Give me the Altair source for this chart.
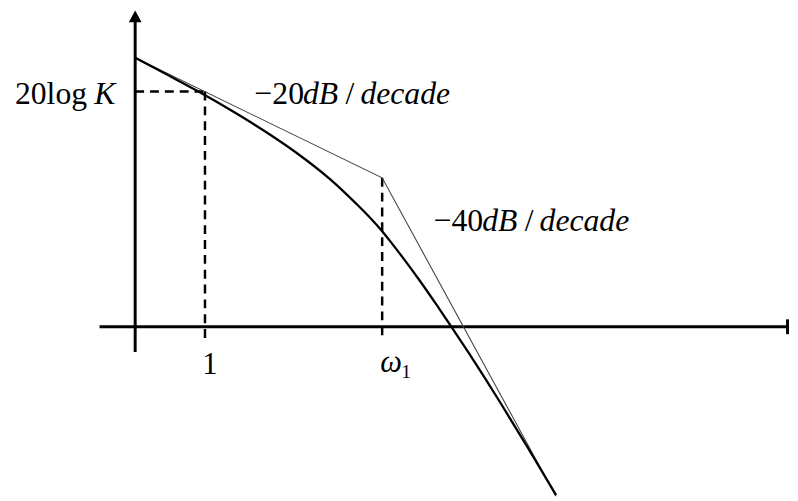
import altair as alt
import pandas as pd

# ---- data (x: frequency omega on a log axis, y: magnitude in dB) ----
omega_axis = 0.4037          # where the vertical dB axis stands
omega_one = 1.0              # omega = 1
omega_1 = 10.0               # corner frequency omega_1
gain_db = 54.0               # 20 log K

# straight-line (asymptotic) approximation
asym_w = [0.4064, 10.0, 95.6]
asym_db = [61.7, 34.2, -38.9]

# exact magnitude curve
exact_w = [0.4064, 0.6213, 0.9139, 1.4026, 2.1553, 3.3081, 5.0768, 7.157,
           8.681, 10.0, 11.373, 13.05, 16.16, 20.03, 24.29, 30.74, 38.11,
           47.24, 66.52, 95.85]
exact_db = [61.70, 57.73, 54.07, 49.70, 45.00, 39.84, 33.89, 28.20,
            24.73, 21.93, 19.09, 15.93, 10.80, 5.36, 0.30, -5.95, -11.84,
            -17.91, -27.82, -38.66]

# axis extents
x_axis_w = [0.2541, 1940.0]
y_axis_db = [-5.8, 70.57]
arrow_db = 71.25
end_tick_db = [-1.7, 1.7]
drop_db = -2.84              # dashed guides end a little below the axis

# texts
lbl_gain = ["20log", "K"]
lbl_slope1 = ["\u221220", "dB", "/", "decade"]
lbl_slope2 = ["\u221240", "dB", "/", "decade"]
lbl_one = "1"
lbl_w1 = ["\u03c9", "1"]

# ---- scales ----
xs = alt.Scale(type="log", domain=[0.07732, 2003.3], nice=False)
ys = alt.Scale(domain=[-39.43, 72.61], nice=False, zero=False)
X = lambda f: alt.X(f, type="quantitative", scale=xs, axis=None)
Y = lambda f: alt.Y(f, type="quantitative", scale=ys, axis=None)
X2 = lambda f: alt.X2(f)
Y2 = lambda f: alt.Y2(f)
FONT = "Liberation Serif"

layers = []

# axes
hax = pd.DataFrame({"w": [x_axis_w[0]], "w2": [x_axis_w[1]], "db": [0.0]})
layers.append(alt.Chart(hax).mark_rule(color="black", strokeWidth=3)
              .encode(x=X("w"), x2=X2("w2"), y=Y("db")))
vax = pd.DataFrame({"w": [omega_axis], "db": [y_axis_db[0]], "db2": [y_axis_db[1]]})
layers.append(alt.Chart(vax).mark_rule(color="black", strokeWidth=3)
              .encode(x=X("w"), y=Y("db"), y2=Y2("db2")))
tick = pd.DataFrame({"w": [x_axis_w[1]], "db": [end_tick_db[0]], "db2": [end_tick_db[1]]})
layers.append(alt.Chart(tick).mark_rule(color="black", strokeWidth=3)
              .encode(x=X("w"), y=Y("db"), y2=Y2("db2")))
arrow = pd.DataFrame({"w": [omega_axis], "db": [arrow_db]})
layers.append(alt.Chart(arrow).mark_point(shape="M-1.08,1L1.08,1L0,-1Z", size=144,
                                           filled=True, color="black", opacity=1,
                                           strokeWidth=0)
              .encode(x=X("w"), y=Y("db")))

# dashed guides
dh = pd.DataFrame({"w": [omega_axis], "w2": [omega_one], "db": [gain_db]})
layers.append(alt.Chart(dh).mark_rule(color="black", strokeWidth=2.5, strokeDash=[9, 6])
              .encode(x=X("w"), x2=X2("w2"), y=Y("db")))
dv = pd.DataFrame({"w": [omega_one, omega_1], "db": [gain_db, asym_db[1]],
                   "db2": [drop_db, drop_db]})
layers.append(alt.Chart(dv).mark_rule(color="black", strokeWidth=2.5, strokeDash=[9, 6])
              .encode(x=X("w"), y=Y("db"), y2=Y2("db2")))

# curves
asym = pd.DataFrame({"w": asym_w, "db": asym_db})
layers.append(alt.Chart(asym).mark_line(color="#444444", strokeWidth=1.1)
              .encode(x=X("w"), y=Y("db"), order=alt.Order("w:Q")))
exact = pd.DataFrame({"w": exact_w, "db": exact_db})
layers.append(alt.Chart(exact).mark_line(color="black", strokeWidth=2.3,
                                         interpolate="monotone", strokeJoin="round")
              .encode(x=X("w"), y=Y("db"), order=alt.Order("w:Q")))


def label(text, w, db, dx, dy, size=32, italic=False, align="left"):
    df = pd.DataFrame({"w": [w], "db": [db], "t": [text]})
    return (alt.Chart(df)
            .mark_text(font=FONT, fontSize=size,
                       fontStyle="italic" if italic else "normal",
                       align=align, baseline="alphabetic", dx=dx, dy=dy,
                       color="black")
            .encode(x=X("w"), y=Y("db"), text="t:N"))


# 20log K
layers.append(label(lbl_gain[0], omega_axis, gain_db, -48.6, 13, align="right"))
layers.append(label(lbl_gain[1], omega_axis, gain_db, -20, 13, italic=True, align="right"))
# -20dB / decade
for txt, dx, it in zip(lbl_slope1, [50, 99, 142, 157], [False, True, False, True]):
    layers.append(label(txt, omega_one, gain_db, dx, 13, italic=it))
# -40dB / decade
for txt, dx, it in zip(lbl_slope2, [52, 101, 144, 159], [False, True, False, True]):
    layers.append(label(txt, omega_1, asym_db[1], dx, 54, italic=it))
# tick labels
layers.append(label(lbl_one, omega_one, 0.0, 5, 47.5, size=31, align="center"))
layers.append(label(lbl_w1[0], omega_1, 0.0, -2, 45.5, size=31, italic=True))
layers.append(label(lbl_w1[1], omega_1, 0.0, 19.5, 51.5, size=19))

chart = (alt.layer(*layers)
         .properties(width=790, height=493, padding=0, background="white",
                     autosize=alt.AutoSizeParams(type="none"))
         .configure_view(stroke=None))

chart.save("out.html", embed_options={"renderer": "svg", "actions": False})
